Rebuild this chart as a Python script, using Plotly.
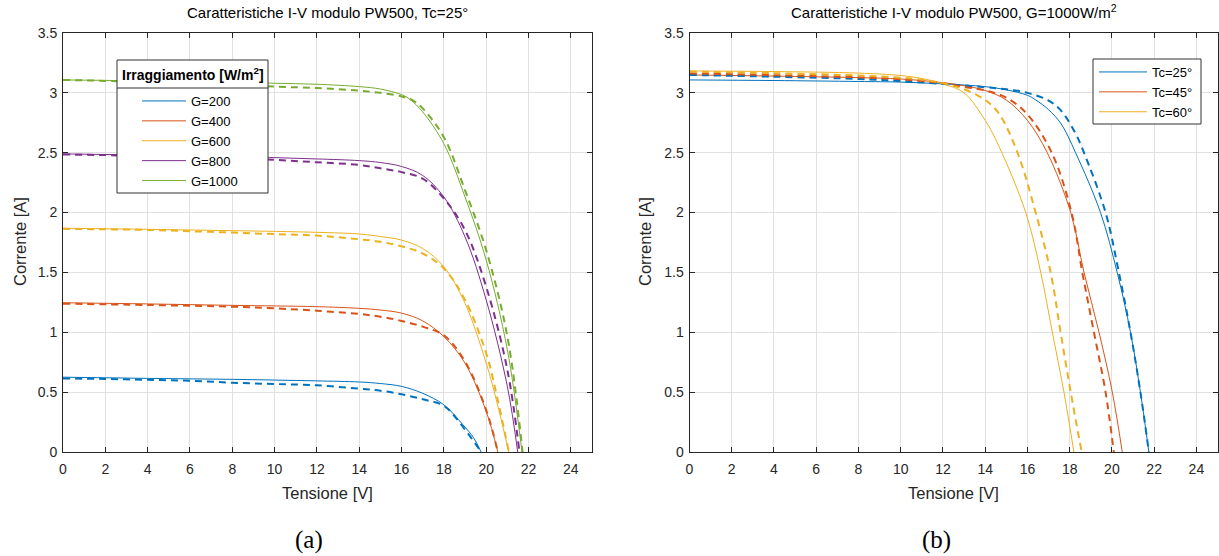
import plotly.graph_objects as go

# ---------------- data: left panel (Tc = 25°C, varying irradiance) ----------------
G_labels = ["G=200", "G=400", "G=600", "G=800", "G=1000"]
G_legend_title = "Irraggiamento [W/m<sup>2</sup>]"

V_G200_sol = [0, 2, 4, 6, 8, 10, 12, 14, 15, 16, 17, 18, 18.9, 19.4, 19.76]
I_G200_sol = [0.625, 0.62, 0.615, 0.611, 0.607, 0.601, 0.594, 0.585, 0.572, 0.548, 0.49, 0.394, 0.228, 0.12, 0]
V_G200_das = [0, 2, 4, 6, 8, 10, 12, 14, 15, 16, 17, 18, 18.9, 19.76]
I_G200_das = [0.615, 0.61, 0.603, 0.595, 0.579, 0.568, 0.557, 0.529, 0.512, 0.482, 0.44, 0.386, 0.21, 0]

V_G400_sol = [0, 4, 8, 12, 14, 15, 16, 17, 18, 19, 20, 20.55]
I_G400_sol = [1.247, 1.237, 1.225, 1.214, 1.2, 1.186, 1.16, 1.095, 0.964, 0.742, 0.339, 0]
V_G400_das = [0, 4, 8, 10, 12, 14, 15, 16, 17, 18, 19, 20, 20.55]
I_G400_das = [1.239, 1.228, 1.214, 1.2, 1.18, 1.153, 1.13, 1.095, 1.047, 0.975, 0.756, 0.35, 0]

V_G600_sol = [0, 4, 8, 12, 14, 15, 16, 17, 18, 19, 20, 20.5, 21.07]
I_G600_sol = [1.869, 1.86, 1.849, 1.835, 1.821, 1.8, 1.77, 1.7, 1.547, 1.242, 0.742, 0.42, 0]
V_G600_das = [0, 2, 4, 6, 8, 10, 12, 14, 15, 16, 17, 18, 19, 20, 20.5, 21.07]
I_G600_das = [1.864, 1.86, 1.855, 1.844, 1.833, 1.82, 1.808, 1.777, 1.756, 1.718, 1.658, 1.533, 1.27, 0.825, 0.47, 0]

V_G800_sol = [0, 4, 8, 10, 12, 14, 15, 16, 17, 18, 19, 20, 21, 21.49]
I_G800_sol = [2.49, 2.48, 2.468, 2.459, 2.448, 2.434, 2.418, 2.385, 2.31, 2.13, 1.797, 1.27, 0.547, 0]
V_G800_das = [0, 2, 4, 8, 10, 12, 14, 15, 16, 17, 18, 19, 20, 21, 21.57]
I_G800_das = [2.485, 2.48, 2.47, 2.45, 2.44, 2.42, 2.398, 2.37, 2.338, 2.283, 2.117, 1.853, 1.38, 0.686, 0]

V_G1000_sol = [0, 4, 8, 10, 12, 14, 15, 16, 16.4, 17, 18, 19, 20, 21, 21.69]
I_G1000_sol = [3.108, 3.1, 3.09, 3.08, 3.072, 3.052, 3.032, 2.985, 2.945, 2.84, 2.575, 2.13, 1.603, 0.853, 0]
V_G1000_das = [0, 2, 4, 8, 10, 12, 14, 15, 16, 16.55, 17, 18, 19, 20, 21, 21.72]
I_G1000_das = [3.108, 3.1, 3.09, 3.065, 3.052, 3.04, 3.018, 3.0, 2.97, 2.936, 2.87, 2.63, 2.186, 1.686, 0.964, 0]

# ---------------- data: right panel (G = 1000 W/m2, varying temperature) ----------------
T_labels = ["Tc=25°", "Tc=45°", "Tc=60°"]

V_T25_sol = [0, 4, 8, 10, 12, 14, 15, 16, 16.4, 17, 17.6, 18.28, 19.46, 20.25, 20.88, 21.35, 21.75]
I_T25_sol = [3.108, 3.103, 3.095, 3.09, 3.075, 3.052, 3.025, 2.98, 2.94, 2.86, 2.74, 2.5, 2.0, 1.5, 1.0, 0.5, 0]
V_T25_das = [0, 4, 8, 10, 12, 14, 15, 16, 17, 17.6, 18.28, 18.68, 19.7, 20.33, 20.88, 21.35, 21.75]
I_T25_das = [3.15, 3.135, 3.116, 3.098, 3.075, 3.047, 3.03, 3.0, 2.936, 2.85, 2.66, 2.5, 2.0, 1.5, 1.0, 0.5, 0]

V_T45_sol = [0, 4, 8, 10, 12, 13, 14, 15, 16, 16.94, 18.05, 18.68, 19.39, 20.02, 20.49]
I_T45_sol = [3.15, 3.14, 3.127, 3.116, 3.085, 3.06, 3.02, 2.94, 2.77, 2.5, 2.0, 1.5, 1.0, 0.5, 0]
V_T45_das = [0, 4, 8, 10, 12, 13, 14, 15, 16, 17.15, 18.09, 18.6, 19.15, 19.7, 20.09]
I_T45_das = [3.164, 3.148, 3.13, 3.113, 3.08, 3.05, 3.02, 2.96, 2.82, 2.5, 2.0, 1.5, 1.0, 0.5, 0]

V_T60_sol = [0, 4, 8, 10, 11, 12, 13, 14, 14.66, 15.92, 16.63, 17.18, 17.73, 18.2]
I_T60_sol = [3.183, 3.178, 3.165, 3.145, 3.12, 3.075, 3.0, 2.77, 2.55, 2.0, 1.5, 1.0, 0.5, 0]
V_T60_das = [0, 4, 8, 10, 11, 12, 13, 14, 14.66, 15.53, 16.39, 17.1, 17.57, 18.05, 18.57]
I_T60_das = [3.178, 3.164, 3.145, 3.127, 3.11, 3.08, 3.03, 2.94, 2.825, 2.5, 2.0, 1.5, 1.0, 0.5, 0]

x_ticks = list(range(0, 25, 2))
y_ticks = [0, 0.5, 1, 1.5, 2, 2.5, 3, 3.5]

# ---------------- style ----------------
COLORS = ["#0072BD", "#D95319", "#EDB120", "#7E2F8E", "#77AC30"]
FONT = "Liberation Sans, Arial, Helvetica, sans-serif"
SERIF = "Liberation Serif, DejaVu Serif, serif"
AX = "#262626"
GRID = "#e1e1e1"
W, H = 1219, 556

def px_x(p):
    return p / W

def px_y(p):
    return 1 - p / H

fig = go.Figure()

SPL = dict(shape="spline", smoothing=1.0)

left_sets = [
    (V_G200_sol, I_G200_sol, V_G200_das, I_G200_das),
    (V_G400_sol, I_G400_sol, V_G400_das, I_G400_das),
    (V_G600_sol, I_G600_sol, V_G600_das, I_G600_das),
    (V_G800_sol, I_G800_sol, V_G800_das, I_G800_das),
    (V_G1000_sol, I_G1000_sol, V_G1000_das, I_G1000_das),
]
for k, (vs, is_, vd, id_) in enumerate(left_sets):
    fig.add_trace(go.Scatter(x=vs, y=is_, mode="lines", name=G_labels[k],
                             line=dict(color=COLORS[k], width=1, **SPL),
                             xaxis="x", yaxis="y", legend="legend"))
for k, (vs, is_, vd, id_) in enumerate(left_sets):
    fig.add_trace(go.Scatter(x=vd, y=id_, mode="lines", showlegend=False,
                             line=dict(color=COLORS[k], width=2, dash="7px,5px", **SPL),
                             xaxis="x", yaxis="y"))

right_sets = [
    (V_T25_sol, I_T25_sol, V_T25_das, I_T25_das),
    (V_T45_sol, I_T45_sol, V_T45_das, I_T45_das),
    (V_T60_sol, I_T60_sol, V_T60_das, I_T60_das),
]
for k, (vs, is_, vd, id_) in enumerate(right_sets):
    fig.add_trace(go.Scatter(x=vs, y=is_, mode="lines", name=T_labels[k],
                             line=dict(color=COLORS[k], width=1, **SPL),
                             xaxis="x2", yaxis="y2", legend="legend2"))
for k, (vs, is_, vd, id_) in enumerate(right_sets):
    fig.add_trace(go.Scatter(x=vd, y=id_, mode="lines", showlegend=False,
                             line=dict(color=COLORS[k], width=2, dash="7px,5px", **SPL),
                             xaxis="x2", yaxis="y2"))

axis_common = dict(showline=True, linecolor=AX, linewidth=1, mirror="ticks",
                   ticks="inside", ticklen=5, tickcolor=AX, showgrid=True,
                   gridcolor=GRID, gridwidth=1, zeroline=False, automargin=False,
                   tickfont=dict(family=FONT, size=14, color=AX))

dom_y = [px_y(452), px_y(33)]
fig.update_layout(
    width=W, height=H,
    margin=dict(l=0, r=0, t=0, b=0, pad=0, autoexpand=False),
    paper_bgcolor="white", plot_bgcolor="white",
    font=dict(family=FONT, color=AX),
    xaxis=dict(domain=[px_x(63), px_x(592)], range=[0, 25], tickvals=x_ticks, anchor="y",
               ticklabelstandoff=4, **axis_common),
    yaxis=dict(domain=dom_y, range=[0, 3.5], tickvals=y_ticks, anchor="x",
               ticklabelstandoff=2, **axis_common),
    xaxis2=dict(domain=[px_x(689.5), px_x(1217.5)], range=[0, 25], tickvals=x_ticks, anchor="y2",
                ticklabelstandoff=4, **axis_common),
    yaxis2=dict(domain=dom_y, range=[0, 3.5], tickvals=y_ticks, anchor="x2",
                ticklabelstandoff=2, **axis_common),
    legend=dict(x=px_x(137), y=px_y(86), xanchor="left", yanchor="top",
                bgcolor="rgba(0,0,0,0)", borderwidth=0, itemwidth=44,
                font=dict(family=FONT, size=13, color="#000000"),
                tracegroupgap=0),
    legend2=dict(x=px_x(1094), y=px_y(57), xanchor="left", yanchor="top",
                 bgcolor="rgba(0,0,0,0)", borderwidth=0, itemwidth=48,
                 font=dict(family=FONT, size=13, color="#000000")),
    showlegend=True,
)

ann = []
ann.append(dict(text="Caratteristiche I-V modulo PW500, Tc=25°", x=px_x(327.5), y=px_y(13),
                xref="paper", yref="paper", showarrow=False, xanchor="center", yanchor="middle",
                font=dict(family=FONT, size=15, color="#000000")))
ann.append(dict(text="Caratteristiche I-V modulo PW500, G=1000W/m<sup>2</sup>", x=px_x(953.5), y=px_y(12),
                xref="paper", yref="paper", showarrow=False, xanchor="center", yanchor="middle",
                font=dict(family=FONT, size=15, color="#000000")))
for cx in (327.5, 953.5):
    ann.append(dict(text="Tensione [V]", x=px_x(cx), y=px_y(493), xref="paper", yref="paper",
                    showarrow=False, xanchor="center", yanchor="middle",
                    font=dict(family=FONT, size=16.5, color=AX)))
for cx in (20, 645):
    ann.append(dict(text="Corrente [A]", x=px_x(cx), y=px_y(242), xref="paper", yref="paper",
                    showarrow=False, xanchor="center", yanchor="middle", textangle=-90,
                    font=dict(family=FONT, size=16.5, color=AX)))
ann.append(dict(text="(a)", x=px_x(309), y=px_y(540), xref="paper", yref="paper", showarrow=False,
                xanchor="center", yanchor="middle", font=dict(family=SERIF, size=25, color="#000000")))
ann.append(dict(text="(b)", x=px_x(936), y=px_y(540), xref="paper", yref="paper", showarrow=False,
                xanchor="center", yanchor="middle", font=dict(family=SERIF, size=25, color="#000000")))
# legend title of the left panel
ann.append(dict(text="<b>" + G_legend_title + "</b>", x=px_x(192.5), y=px_y(74), xref="paper", yref="paper",
                showarrow=False, xanchor="center", yanchor="middle",
                font=dict(family=FONT, size=14, color="#000000")))
fig.update_layout(annotations=ann)

# legend boxes (drawn as shapes under the transparent legends)
fig.add_shape(type="rect", xref="paper", yref="paper",
              x0=px_x(117), x1=px_x(268), y0=px_y(193), y1=px_y(60),
              fillcolor="white", line=dict(color="#333333", width=1), layer="above")
fig.add_shape(type="line", xref="paper", yref="paper",
              x0=px_x(117), x1=px_x(268), y0=px_y(88), y1=px_y(88),
              line=dict(color="#333333", width=1), layer="above")
fig.add_shape(type="rect", xref="paper", yref="paper",
              x0=px_x(1093), x1=px_x(1201), y0=px_y(124), y1=px_y(59),
              fillcolor="white", line=dict(color="#333333", width=1), layer="above")

fig.write_html("out.html")
